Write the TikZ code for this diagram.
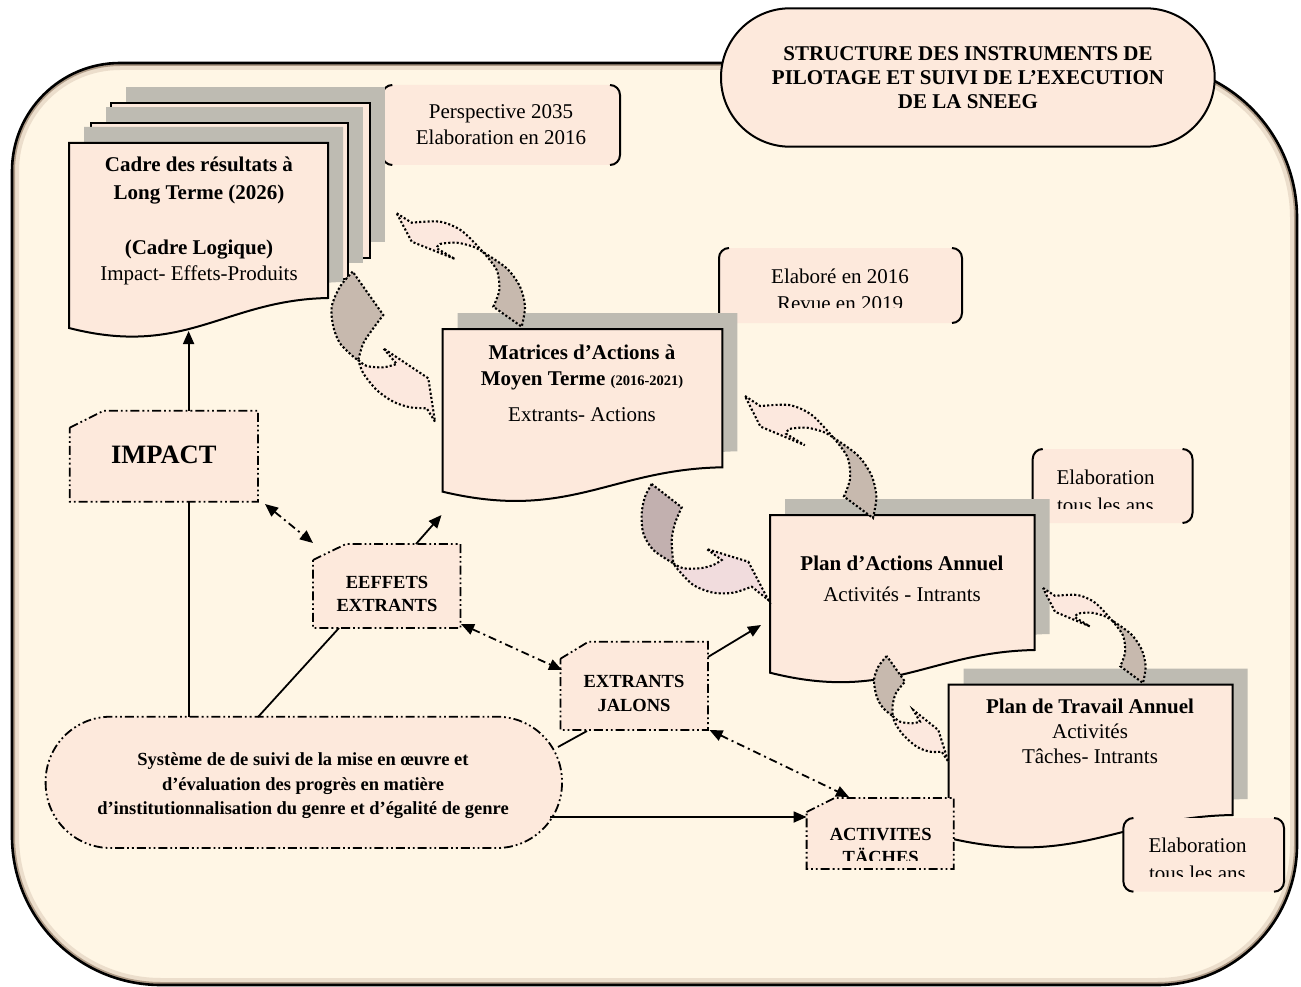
\documentclass[tikz,border=0pt]{standalone}
\usepackage{fontspec}
\setmainfont{Liberation Serif}
\usetikzlibrary{arrows.meta}
\definecolor{bgcream}{RGB}{255,246,229}
\definecolor{peach}{RGB}{253,233,220}
\definecolor{shadowgray}{RGB}{190,187,178}
\definecolor{arrdark}{RGB}{199,185,174}
\definecolor{arrlight}{RGB}{252,232,222}
\definecolor{arrmauve}{RGB}{194,176,175}
\definecolor{arrlav}{RGB}{241,220,221}
\definecolor{framesoft}{RGB}{236,222,204}
\definecolor{framedeep}{RGB}{175,155,135}

% frame outline (pixel coordinates, y downwards)
\newcommand\framepath{(12,171) .. controls (12,111.4) and (60.4,63) .. (120,63) -- (1142,63) .. controls (1227.6,63) and (1297,132.4) .. (1297,218) -- (1297,845) .. controls (1297,922.3) and (1234.3,985) .. (1157,985) -- (161,985) .. controls (78.7,985) and (12,918.3) .. (12,836) -- cycle}
% document shape: x1, top, x2, left bottom, right bottom
\newcommand\docpath[5]{(#1,#2) -- (#3,#2) -- (#3,#5) .. controls ({#1+0.6*(#3-#1)},{#5+2}) and ({#1+0.45*(#3-#1)},{#4+30}) .. (#1,#4) -- cycle}
% snipped box: x1, y1, x2, y2, dx, dy
\newcommand\snip[6]{(#1,{#2+#6}) -- ({#1+#5},#2) -- (#3,#2) -- (#3,#4) -- (#1,#4) -- cycle}
% bracket box
\newcommand\bracketbox[4]{%
  \fill[peach,rounded corners=10pt] (#1,#2) rectangle (#3,#4);
  \draw[line width=2pt,rounded corners=10pt] ({#1+10},#2) -- (#1,#2) -- (#1,#4) -- ({#1+10},#4);
  \draw[line width=2pt,rounded corners=10pt] ({#3-10},#2) -- (#3,#2) -- (#3,#4) -- ({#3-10},#4);}
% curved ribbon arrow, upward type (canonical A1)
\newcommand\uplight{(396.7,213.3) -- (411.7,222.7) -- plot[smooth] coordinates {(411.7,222.7) (440,221.7) (462,231) (483,252)} -- plot[smooth] coordinates {(483,252) (473.3,246.7) (456.7,242.7) (440,244) (436.7,248.3)} -- (455,259) -- (411.7,241.7) -- cycle}
\newcommand\updark{plot[smooth] coordinates {(483,252) (496.7,270) (499.3,290) (493.3,306.7)} -- (521.7,326.7) -- plot[smooth] coordinates {(521.7,326.7) (525,306.7) (520,286.7) (506.7,268.3) (483,252)} -- cycle}
\newcommand\fN{\fontsize{21}{26}\selectfont}

\begin{document}
\begin{tikzpicture}[x=1pt,y=-1pt,
  pagebox/.style={fill=peach,draw=black,line width=2pt},
  snipbox/.style={fill=peach,draw=black,line width=1.8pt,dash pattern=on 9pt off 3pt on 1.8pt off 3pt on 1.8pt off 3pt},
  conn/.style={draw=black,line width=1.8pt},
  dconn/.style={conn,dash pattern=on 8pt off 4pt on 2pt off 4pt},
  arr/.style={-{Triangle[length=13pt,width=11pt]}},
  darr/.style={{Triangle[length=13pt,width=11pt]}-{Triangle[length=13pt,width=11pt]}},
  ribbon/.style={draw=black,line width=2.1pt,dash pattern=on 2.1pt off 2.1pt},
  txt/.style={align=center,inner sep=0pt}]
\useasboundingbox (0,0) rectangle (1301,987);
\fill[white] (0,0) rectangle (1301,987);

% ---------- frame
\fill[bgcream] \framepath;
\begin{scope}
  \clip \framepath;
  \draw[framesoft,line width=14pt] \framepath;
  \draw[framedeep,line width=6pt] \framepath;
\end{scope}
\draw[line width=2.6pt] \framepath;

% ---------- title
\draw[fill=peach,line width=2pt,rounded corners=69pt] (721,8.3) rectangle (1214.7,146.7);
\node[txt,font={\fontsize{21}{24.2}\selectfont\bfseries}] (title) at (968,77.5)
  {STRUCTURE DES INSTRUMENTS DE\\PILOTAGE ET SUIVI DE L’EXECUTION\\DE LA SNEEG};

% ---------- perspective box
\bracketbox{382.3}{85}{620}{165}
\node[txt,font=\fN] (persp) at (501,125) {Perspective 2035\\Elaboration en 2016};

% ---------- long term results frame (stack of pages)
\fill[shadowgray] (126,87) rectangle (385,242);
\draw[pagebox] (111,103) rectangle (370,258);
\fill[shadowgray] (106,107) rectangle (363,263);
\draw[pagebox] (91,123) rectangle (348,279);
\fill[shadowgray,shift={(15,-16)}] \docpath{69}{143}{328}{328}{298};
\draw[pagebox] \docpath{69}{143}{328}{328}{298};
\node[txt,font={\fontsize{21}{28}\selectfont}] (cadre) at (199,221.4)
  {{\bfseries Cadre des résultats à}\\{\bfseries Long Terme (2026)}\\[27pt]{\bfseries (Cadre Logique)}\\[-2pt]Impact- Effets-Produits};

% ---------- medium term matrices
\bracketbox{719}{248}{962}{323}
\begin{scope}
  \clip (719,248) rectangle (962,307);
  \node[txt,font={\fontsize{21}{27.3}\selectfont}] (elabma) at (840,289.6) {Elaboré en 2016\\Revue en 2019};
\end{scope}
\fill[shadowgray,shift={(15,-16)}] \docpath{442.7}{329}{722.3}{491.7}{467.3};
\draw[pagebox] \docpath{442.7}{329}{722.3}{491.7}{467.3};
\node[txt,font={\fontsize{21}{26}\selectfont\bfseries}] (matrices) at (582,383.3)
  {Matrices d’Actions à\\Moyen Terme {\fontsize{14.5}{14.5}\selectfont (2016-2021)}\\[10pt]{\mdseries Extrants- Actions}};

% ---------- annual action plan
\bracketbox{1032.7}{449}{1192.5}{523}
\begin{scope}
  \clip (1032.7,449) rectangle (1192.5,508);
  \node[txt,font={\fontsize{21}{27.7}\selectfont}] (elabpa) at (1105.5,491.6) {Elaboration\\tous les ans};
\end{scope}
\fill[shadowgray,shift={(15,-16)}] \docpath{770}{515}{1034.6}{672.7}{650};
\draw[pagebox] \docpath{770}{515}{1034.6}{672.7}{650};
\node[txt,font={\fontsize{21}{31}\selectfont\bfseries}] (pa) at (902,578.8)
  {Plan d’Actions Annuel\\{\mdseries Activités - Intrants}};

% ---------- annual work plan
\fill[shadowgray,shift={(15,-16)}] \docpath{948.6}{684.5}{1232.5}{838}{815};
\draw[pagebox] \docpath{948.6}{684.5}{1232.5}{838}{815};
\node[txt,font={\fontsize{21}{25}\selectfont\bfseries}] (pt) at (1090,731.8)
  {Plan de Travail Annuel\\{\mdseries Activités}\\{\mdseries Tâches- Intrants}};
\bracketbox{1123.4}{818}{1284}{891.7}
\begin{scope}
  \clip (1123.4,818) rectangle (1284,876);
  \node[txt,font={\fontsize{21}{28}\selectfont}] (elabpt) at (1197.5,859.8) {Elaboration\\tous les ans};
\end{scope}

% ---------- curved ribbon arrows (upward)
\path[ribbon,fill=arrlight] \uplight;
\path[ribbon,fill=arrdark] \updark;
\begin{scope}[shift={(745,396)},xscale=1.024,yscale=1.076,shift={(-396.7,-213.3)}]
  \path[ribbon,fill=arrlight] \uplight;
  \path[ribbon,fill=arrdark] \updark;
\end{scope}
\begin{scope}[shift={(1043,588)},xscale=0.8,yscale=0.838,shift={(-396.7,-213.3)}]
  \path[ribbon,fill=arrlight] \uplight;
  \path[ribbon,fill=arrdark] \updark;
\end{scope}
% ---------- curved ribbon arrows (downward)
\path[ribbon,fill=arrdark] plot[smooth] coordinates {(352.7,271.7) (340,286.7) (331.7,306.7) (333.3,326.7) (340,343.3) (353.3,356.7) (358.3,360)} -- plot[smooth] coordinates {(358.3,360) (363.3,343.3) (373.3,328.3) (383.3,315)} -- cycle;
\path[ribbon,fill=arrlight] plot[smooth] coordinates {(358.3,360) (366.7,366) (383.3,367.3) (396.7,364)} -- (383.3,348.3) -- (428.3,378.3) -- (435,421.7) -- (426.7,408.3) -- plot[smooth] coordinates {(426.7,408.3) (410,407.3) (393.3,401.7) (376.7,390) (363.3,373.3) (358.3,360)} -- cycle;

\path[ribbon,fill=arrmauve] plot[smooth] coordinates {(651.7,484) (645,496.7) (641.7,513.3) (643.3,533.3) (653.3,550) (673.3,563.3)} -- plot[smooth] coordinates {(673.3,563.3) (671.7,540) (675,523.3) (681.7,507.3)} -- cycle;
\path[ribbon,fill=arrlav] plot[smooth] coordinates {(673.3,563.3) (683.3,568.3) (700,568.3) (713.3,565) (721.7,560)} -- (706.7,549) -- (748.3,561.7) -- (768.3,600) -- (751.7,586.7) -- plot[smooth] coordinates {(751.7,586.7) (733.3,592.7) (713.3,592.7) (693.3,585) (678.3,570) (673.3,563.3)} -- cycle;

\path[ribbon,fill=arrdark] plot[smooth] coordinates {(886.7,656) (878.3,666.7) (874,680) (876.7,696.7) (883.3,708.3) (892.7,716)} -- plot[smooth] coordinates {(892.7,716) (892.7,705) (896,693) (905,681.7)} -- cycle;
\path[ribbon,fill=arrlight] plot[smooth] coordinates {(892.7,716) (900,721.7) (911.7,723.3) (920,721.7)} -- (913.3,710) -- (938.3,730) -- (948.3,761.7) -- (941.7,751.7) -- plot[smooth] coordinates {(941.7,751.7) (930,751.7) (916.7,746.7) (903.3,735) (895,723) (892.7,716)} -- cycle;

% ---------- lower boxes
\draw[snipbox] \snip{69.7}{410.7}{258}{501.7}{34}{17};
\node[txt,font={\fontsize{26.5}{30}\selectfont\bfseries}] (impact) at (163.8,455) {IMPACT};

\draw[snipbox] \snip{313}{544}{460.5}{628}{33}{16};
\node[txt,font={\fontsize{18.5}{23}\selectfont\bfseries}] (effets) at (387,594.4) {EEFFETS\\EXTRANTS};

\draw[snipbox] \snip{560.5}{641.7}{708}{730}{28}{17};
\node[txt,font={\fontsize{18.5}{24}\selectfont\bfseries}] (jalons) at (634,693) {EXTRANTS\\JALONS};

\draw[snipbox] \snip{806.6}{798}{953.8}{869}{28}{14};
\begin{scope}
  \clip (806.6,798) rectangle (953.8,860);
  \node[txt,font={\fontsize{18.5}{23}\selectfont\bfseries}] (activ) at (880.7,846.2) {ACTIVITES\\TÄCHES};
\end{scope}

\draw[snipbox,rounded corners=65pt] (45.6,716.7) rectangle (562,848);
\node[txt,font={\fontsize{18.5}{24.5}\selectfont\bfseries}] (systeme) at (303,786)
  {Système de de suivi de la mise en œuvre et\\d’évaluation des progrès en matière\\d’institutionnalisation du genre et d’égalité de genre};

% ---------- connector end points
\coordinate (impN) at (188.6,410.7);
\coordinate (cadreS) at (188.6,331);
\coordinate (impS) at (188.6,501.7);
\coordinate (sysN) at (188.6,716.7);
\coordinate (impSE) at (265,504);
\coordinate (effNW) at (313,543);
\coordinate (effN) at (416,544);
\coordinate (matSW) at (441.5,515);
\coordinate (effS) at (339,628);
\coordinate (sysNb) at (258,717);
\coordinate (effSE) at (461,624);
\coordinate (jalNW) at (562,670);
\coordinate (jalNE) at (708,657);
\coordinate (paW) at (761,625);
\coordinate (jalS) at (587,731);
\coordinate (sysNE) at (558,747);
\coordinate (jalSE) at (709.5,730);
\coordinate (actN) at (849,797);
\coordinate (sysE) at (550,817);
\coordinate (actW) at (806.6,817);

% ---------- connectors
\draw[conn,arr] (impN) -- (cadreS);
\draw[conn] (impS) -- (sysN);
\draw[dconn,darr] (impSE) -- (effNW);
\draw[conn,arr] (effN) -- (matSW);
\draw[conn] (effS) -- (sysNb);
\draw[dconn,darr] (effSE) -- (jalNW);
\draw[conn,arr] (jalNE) -- (paW);
\draw[conn] (jalS) -- (sysNE);
\draw[dconn,darr] (jalSE) -- (actN);
\draw[conn,arr] (sysE) -- (actW);
\end{tikzpicture}
\end{document}
